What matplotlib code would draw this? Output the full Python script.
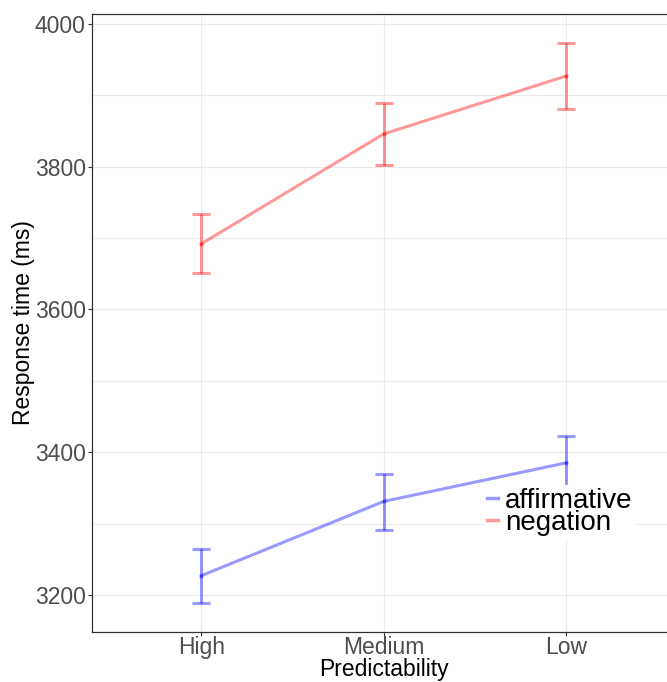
import numpy as np
import matplotlib
matplotlib.use('Agg')
import matplotlib.pyplot as plt
from matplotlib.ticker import MultipleLocator

# Data
levels = ['High', 'Medium', 'Low']
groups = ['affirmative', 'negation']
affirmative = [3227, 3331, 3385]
affirmative_lo = [3188, 3291, 3347]
affirmative_hi = [3265, 3370, 3423]
negation = [3692, 3846, 3927]
negation_lo = [3651, 3802, 3881]
negation_hi = [3734, 3889, 3973]

colors = {'affirmative': (0, 0, 1, 0.4), 'negation': (1, 0, 0, 0.4)}

plt.rcParams['font.family'] = ['Liberation Sans', 'DejaVu Sans']

fig = plt.figure(figsize=(6.67, 6.82), dpi=100)
ax = fig.add_axes([92 / 667, 1 - 632 / 682, (675.5 - 92) / 667, (632 - 14) / 682])

x = np.arange(1, len(levels) + 1)
series = {
    'affirmative': (affirmative, affirmative_lo, affirmative_hi),
    'negation': (negation, negation_lo, negation_hi),
}
for g in groups:
    m, lo, hi = series[g]
    m, lo, hi = np.array(m), np.array(lo), np.array(hi)
    ax.errorbar(x, m, yerr=[m - lo, hi - m], color=colors[g], lw=2.2,
                capsize=6.5, capthick=2.2, fmt='none', zorder=3)
    ax.plot(x, m, color=colors[g], lw=2.2, label=g, zorder=3)
    ax.plot(x, m, 'o', color=colors[g], ms=3, mew=0, zorder=4)

ax.set_xlim(0.4, 3.6)
ax.set_ylim(3148, 4014)
ax.set_xticks(x)
ax.set_xticklabels(levels)
ax.yaxis.set_major_locator(MultipleLocator(200))
ax.yaxis.set_minor_locator(MultipleLocator(100))
ax.xaxis.set_minor_locator(matplotlib.ticker.NullLocator())

ax.grid(True, which='both', color='#ebebeb', lw=0.8, zorder=0)
ax.set_axisbelow(True)
for s in ax.spines.values():
    s.set_color('#333333')
    s.set_linewidth(0.9)

ax.tick_params(which='major', length=3, width=0.8, color='#333333',
               labelsize=16.5, labelcolor='#4d4d4d', pad=1.5)
ax.tick_params(axis='x', pad=0)
ax.tick_params(which='minor', length=0)

ax.set_xlabel('Predictability', fontsize=16.5, color='black', labelpad=-1)
ax.set_ylabel('Response time (ms)', fontsize=16.5, color='black', labelpad=0)

leg = ax.legend(loc='center', bbox_to_anchor=(0.802, 0.194), fontsize=20,
                frameon=True, fancybox=False, edgecolor='none', facecolor='white',
                framealpha=1, handlelength=0.4, handletextpad=0.25,
                labelspacing=-0.15, borderpad=0.1, borderaxespad=0)
for line in leg.get_lines():
    line.set_linewidth(2.5)

plt.savefig('out.png', dpi=100)
